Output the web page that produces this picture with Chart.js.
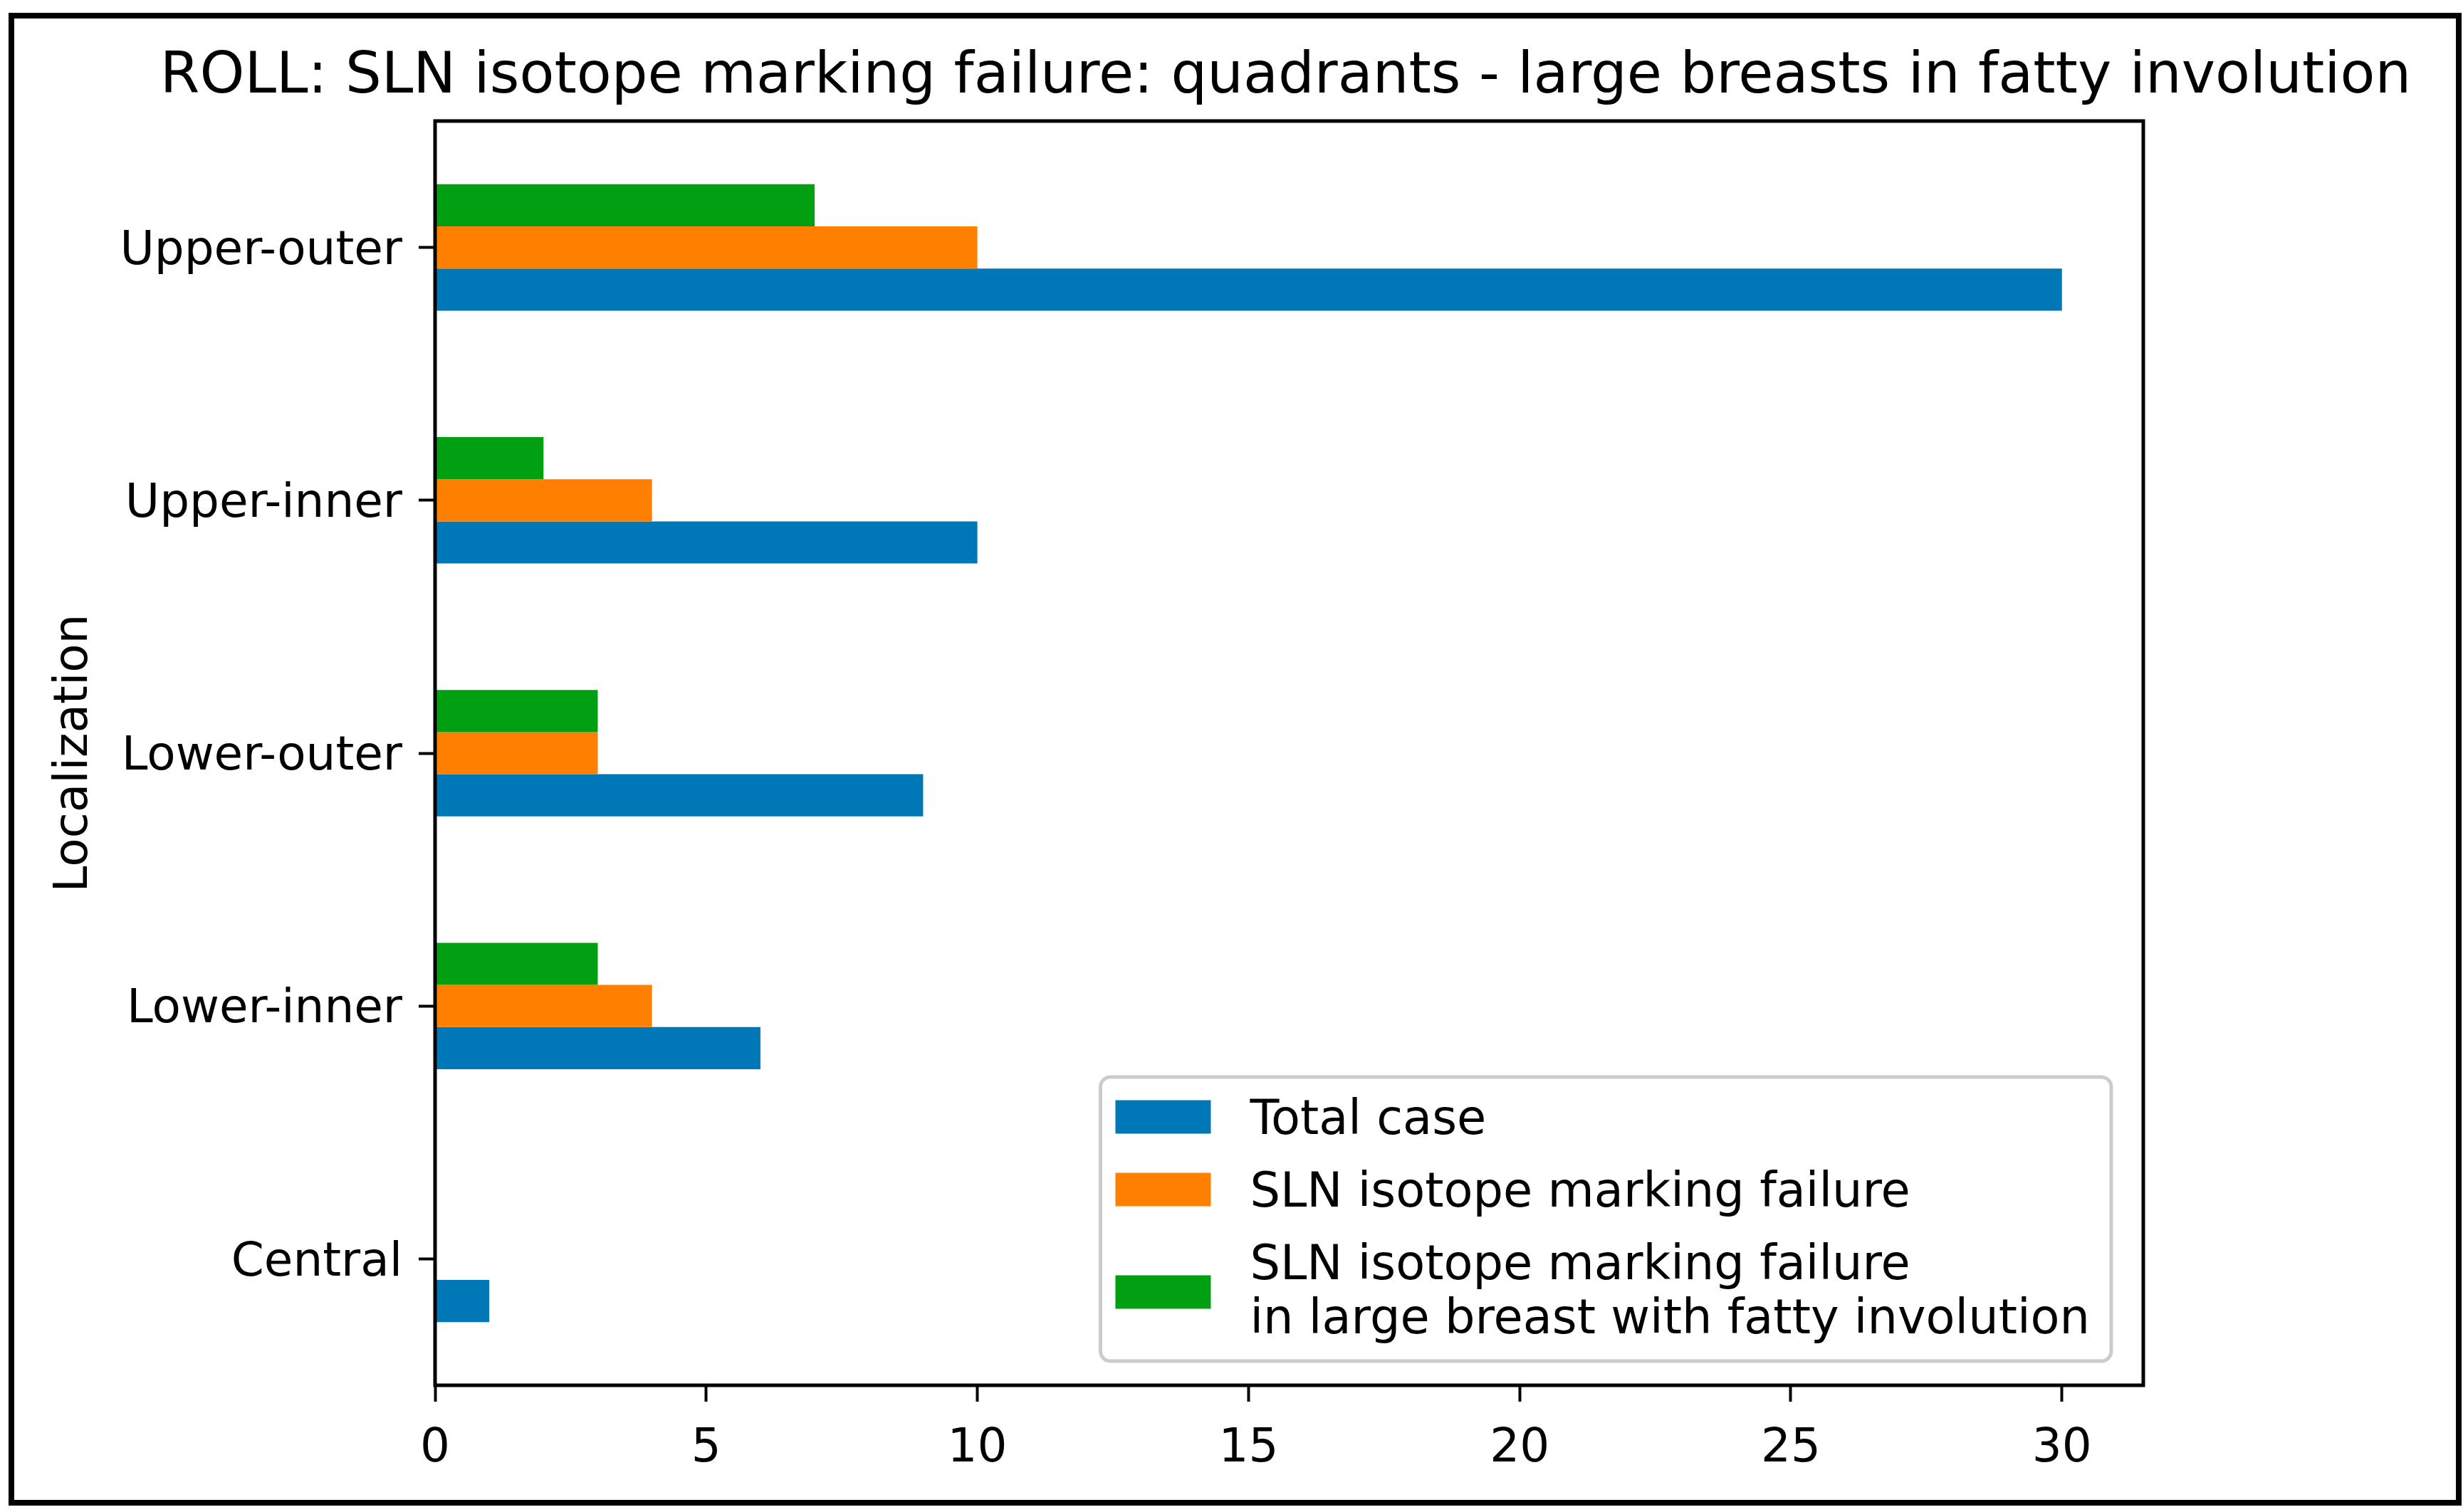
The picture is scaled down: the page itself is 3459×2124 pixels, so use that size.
<!DOCTYPE html>
<html>
<head>
<meta charset="utf-8">
<script src="https://cdn.jsdelivr.net/npm/chart.js@4.4.1/dist/chart.umd.min.js"></script>
<style>
html,body{margin:0;padding:0;background:#ffffff;}
#wrap{width:3459px;height:2124px;position:relative;background:#ffffff;}
canvas{display:block;}
</style>
</head>
<body>
<div id="wrap"><canvas id="c" width="3459" height="2124"></canvas></div>
<script>
// ---- data ----
const chartTitle = 'ROLL: SLN isotope marking failure: quadrants - large breasts in fatty involution';
const yAxisTitle = 'Localization';
const categories = ['Upper-outer', 'Upper-inner', 'Lower-outer', 'Lower-inner', 'Central'];
const totalCase = [30, 10, 9, 6, 1];
const slnFailure = [10, 4, 3, 4, 0];
const slnFailureFatty = [7, 2, 3, 3, 0];
const seriesLabels = ['Total case', 'SLN isotope marking failure', 'SLN isotope marking failure\nin large breast with fatty involution'];
const xTickValues = [0, 5, 10, 15, 20, 25, 30];
const xMin = 0;
const xMax = 31.5;

// ---- style ----
const FONT = '"DejaVu Sans", "Liberation Sans", sans-serif';
const colors = ['#0077b6', '#ff8000', '#00a012'];

// legend order: as in the reference (Total, SLN, SLN fatty)
const legendSeries = [0, 1, 2];

const frameAndAxesPlugin = {
  id: 'frameAndAxes',
  afterDatasetsDraw(chart) {
    const {ctx, chartArea: a} = chart;
    ctx.save();
    ctx.strokeStyle = '#000000';
    ctx.lineWidth = 5;
    ctx.strokeRect(a.left, a.top, a.right - a.left, a.bottom - a.top);
    ctx.restore();
  },
  afterDraw(chart) {
    const {ctx, chartArea: a} = chart;
    ctx.save();
    ctx.strokeStyle = '#000000';
    ctx.lineWidth = 8;
    ctx.strokeRect(16, 22, 3437, 2089);
    ctx.fillStyle = '#000000';
    ctx.font = '80px ' + FONT;
    ctx.textAlign = 'center';
    ctx.textBaseline = 'alphabetic';
    ctx.fillText(chartTitle, (a.left + a.right) / 2 - 5, a.top - 40);
    ctx.restore();
  }
};

const mplLegendPlugin = {
  id: 'mplLegend',
  afterDatasetsDraw(chart) {
    const {ctx, chartArea: a} = chart;
    const fs = 67;
    ctx.save();
    ctx.font = fs + 'px ' + FONT;
    const items = legendSeries.map(i => ({lines: seriesLabels[i].split('\n'), color: colors[i]}));
    let maxW = 0;
    items.forEach(it => it.lines.forEach(l => { maxW = Math.max(maxW, ctx.measureText(l).width); }));
    const padL = 21, handleW = 134, handleH = 47, gap = 55, padR = 30;
    const padT = 32, cap = 48, lineH = 76, rowGap = 26, padB = 39;
    let y = padT + cap;
    const rows = [];
    items.forEach((it, k) => {
      const bl = [];
      it.lines.forEach((l, j) => { bl.push(y); if (j < it.lines.length - 1) y += lineH; });
      rows.push(bl);
      if (k < items.length - 1) y += lineH + rowGap;
    });
    const h = y + padB;
    const w = padL + handleW + gap + maxW + padR;
    const right = a.right - 45, bottom = a.bottom - 34;
    const left = right - w, top = bottom - h;
    ctx.beginPath();
    ctx.roundRect(left, top, w, h, 14);
    ctx.fillStyle = 'rgba(255,255,255,0.8)';
    ctx.fill();
    ctx.strokeStyle = '#cccccc';
    ctx.lineWidth = 5;
    ctx.stroke();
    ctx.textAlign = 'left';
    ctx.textBaseline = 'alphabetic';
    items.forEach((it, k) => {
      const bl = rows[k];
      const first = bl[0] - cap, last = bl[bl.length - 1];
      const cy = top + (first + last) / 2 + (bl.length > 1 ? 4 : 0);
      ctx.fillStyle = it.color;
      ctx.fillRect(left + padL, cy - handleH / 2, handleW, handleH);
      ctx.fillStyle = '#000000';
      it.lines.forEach((l, j) => ctx.fillText(l, left + padL + handleW + gap, top + bl[j]));
    });
    ctx.restore();
  }
};

// Chart.js places datasets top-to-bottom inside a category: green, orange, blue
const drawOrder = [2, 1, 0];
const seriesData = [totalCase, slnFailure, slnFailureFatty];

new Chart(document.getElementById('c'), {
  type: 'bar',
  data: {
    labels: categories,
    datasets: drawOrder.map(i => ({
      label: seriesLabels[i],
      data: seriesData[i],
      backgroundColor: colors[i],
      borderWidth: 0,
      categoryPercentage: 0.5,
      barPercentage: 1.0
    }))
  },
  options: {
    indexAxis: 'y',
    responsive: false,
    devicePixelRatio: 1,
    animation: false,
    layout: {padding: {top: 170, left: 20, right: 449, bottom: 20}},
    plugins: {
      legend: {display: false},
      tooltip: {enabled: false},
      title: {display: false}
    },
    scales: {
      y: {
        type: 'category',
        offset: true,
        afterFit(scale) { scale.width = 591; },
        grid: {display: true, drawOnChartArea: false, offset: false, drawTicks: true, tickLength: 23, tickWidth: 4, tickColor: '#000000', color: '#000000'},
        border: {display: false},
        ticks: {color: '#000000', padding: 23, labelOffset: 6, font: {family: FONT, size: 66}},
        title: {display: true, text: yAxisTitle, color: '#000000', font: {family: FONT, size: 66}, padding: {top: 45, bottom: 0}}
      },
      x: {
        type: 'linear',
        min: xMin,
        max: xMax,
        afterFit(scale) { scale.height = 158; },
        afterBuildTicks(scale) { scale.ticks = xTickValues.map(v => ({value: v})); },
        grid: {display: true, drawOnChartArea: false, drawTicks: true, tickLength: 23, tickWidth: 4, tickColor: '#000000', color: '#000000'},
        border: {display: false},
        ticks: {color: '#000000', padding: 27, font: {family: FONT, size: 66}, callback: v => String(v)}
      }
    }
  },
  plugins: [frameAndAxesPlugin, mplLegendPlugin]
});
</script>
</body>
</html>
